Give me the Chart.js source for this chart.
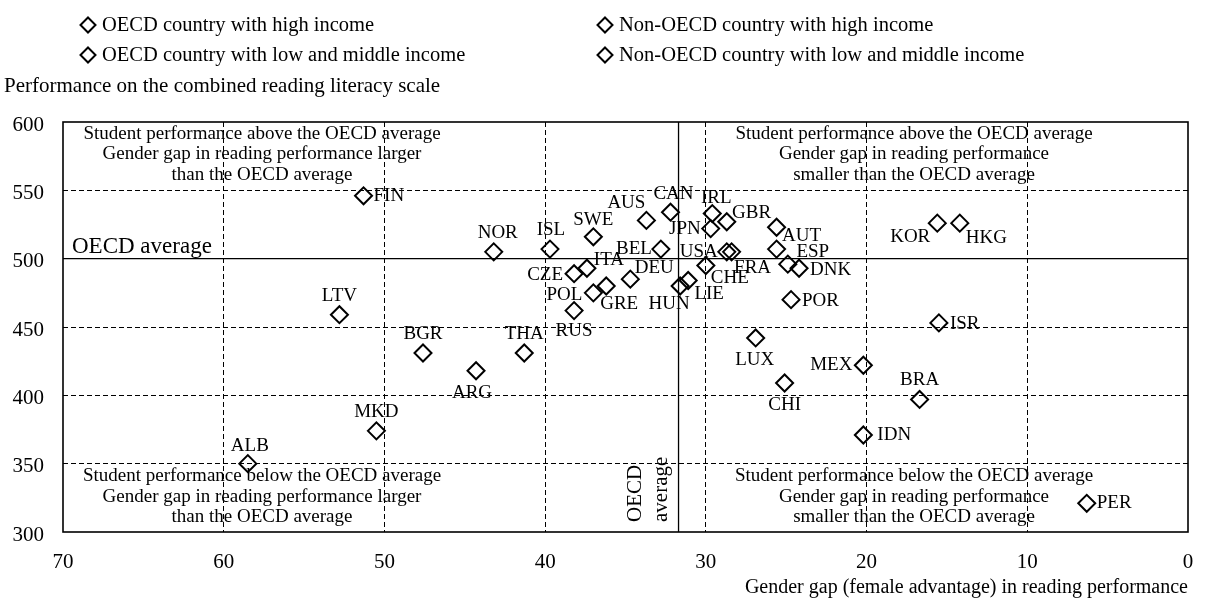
<!DOCTYPE html>
<html>
<head>
<meta charset="utf-8">
<title>Reading performance and gender gap</title>
<script src="https://cdn.jsdelivr.net/npm/chart.js@4.4.1/dist/chart.umd.min.js"></script>
<style>
  html, body { margin: 0; padding: 0; background: #fff; }
</style>
</head>
<body>
<canvas id="gapChart" width="1207" height="604"></canvas>
<script>
// country codes, female advantage in points, mean reading score
const countries = ['FIN','NOR','ISL','SWE','AUS','CAN','IRL','','JPN','GBR','AUT','BEL','USA','FRA','CHE','ESP','DNK','POR',
  'CZE','ITA','DEU','GRE','POL','RUS','HUN','LIE','LTV','BGR','MKD','ALB','ARG','THA','LUX','CHI','MEX','BRA','IDN','KOR','HKG','ISR','PER'];
const genderGap = [51.3,43.2,39.7,37.0,33.7,32.2,29.6,28.7,29.7,25.6,25.6,32.8,28.7,28.4,30.0,24.9,24.2,24.7,
  38.2,37.4,34.7,36.2,37.0,38.2,31.6,31.1,52.8,47.6,50.5,58.5,44.3,41.3,26.9,25.1,20.2,16.7,20.2,15.6,14.2,15.5,6.3];
const readingScore = [546,505,507,516,528,534,533,527,522,523,507,507,505,505,495,496,493,470,
  489,493,485,480,475,462,480,484,459,431,374,350,418,431,442,409,422,397,371,526,526,453,321];
// 0 OECD high, 1 OECD low/middle, 2 non-OECD high, 3 non-OECD low/middle
const incomeGroup = [0,0,0,0,0,0,0,0,0,0,0,0,0,0,0,0,0,0,
  1,0,0,0,1,3,1,2,3,3,3,3,3,3,0,3,1,3,3,0,2,2,3];
const groupNames = [
  'OECD country with high income',
  'OECD country with low and middle income',
  'Non-OECD country with high income',
  'Non-OECD country with low and middle income'
];
const oecdAvgGap = 31.7;
const oecdAvgScore = 500;

const quadrantNotes = {
  topLeft: ['Student performance above the OECD average', 'Gender gap in reading performance larger', 'than the OECD average'],
  topRight: ['Student performance above the OECD average', 'Gender gap in reading performance', 'smaller than the OECD average'],
  bottomLeft: ['Student performance below the OECD average', 'Gender gap in reading performance larger', 'than the OECD average'],
  bottomRight: ['Student performance below the OECD average', 'Gender gap in reading performance', 'smaller than the OECD average']
};

const SERIF = '"Liberation Serif", "DejaVu Serif", serif';

// where each code sits relative to its marker: [dx, dy, align]
const labelPlacement = {
  FIN: [10, 0, 'left'], NOR: [4, -19, 'center'], ISL: [1, -19, 'center'], SWE: [0, -17, 'center'],
  AUS: [-20, -17, 'center'], CAN: [3, -18, 'center'], IRL: [4, -16, 'center'], JPN: [-10, 0, 'right'],
  GBR: [-25, -14, 'center'], AUT: [25, -13, 'center'], BEL: [-9, 0, 'right'], USA: [-9, 0, 'right'],
  FRA: [21, 16, 'center'], CHE: [24, 13, 'center'], ESP: [25, -12, 'center'], DNK: [11, 2, 'left'],
  POR: [11, 1, 'left'], CZE: [-11, 1, 'right'], ITA: [22, -8, 'center'], DEU: [24, -11, 'center'],
  GRE: [13, 18, 'center'], POL: [-11, 2, 'right'], RUS: [0, 20, 'center'], HUN: [-11, 18, 'center'],
  LIE: [21, 13, 'center'], LTV: [0, -19, 'center'], BGR: [0, -19, 'center'], MKD: [0, -19, 'center'],
  ALB: [2, -18, 'center'], ARG: [-4, 22, 'center'], THA: [0, -19, 'center'], LUX: [-1, 22, 'center'],
  CHI: [0, 22, 'center'], MEX: [-11, 0, 'right'], BRA: [0, -19, 'center'], IDN: [14, 0, 'left'],
  KOR: [-7, 14, 'right'], HKG: [6, 15, 'left'], ISR: [11, 1, 'left'], PER: [10, 0, 'left']
};

const datasets = groupNames.map((name, g) => ({
  label: name,
  data: countries
    .map((c, i) => ({ x: genderGap[i], y: readingScore[i], name: c, g: incomeGroup[i] }))
    .filter(p => p.g === g),
  pointStyle: 'rectRot',
  pointRadius: 8.5,
  pointHoverRadius: 8.5,
  pointBorderWidth: 2,
  pointBorderColor: '#000',
  pointBackgroundColor: 'transparent'
}));

function diamond(ctx, x, y, r) {
  ctx.beginPath();
  ctx.moveTo(x, y - r);
  ctx.lineTo(x + r, y);
  ctx.lineTo(x, y + r);
  ctx.lineTo(x - r, y);
  ctx.closePath();
  ctx.stroke();
}

const overlay = {
  id: 'overlay',
  beforeDatasetsDraw(chart) {
    const { ctx, chartArea: a, scales: { x, y } } = chart;
    ctx.save();
    ctx.strokeStyle = '#000';
    // OECD average cross
    ctx.lineWidth = 1.3;
    ctx.beginPath();
    ctx.moveTo(a.left, y.getPixelForValue(oecdAvgScore));
    ctx.lineTo(a.right, y.getPixelForValue(oecdAvgScore));
    ctx.moveTo(x.getPixelForValue(oecdAvgGap), a.top);
    ctx.lineTo(x.getPixelForValue(oecdAvgGap), a.bottom);
    ctx.stroke();
    // frame
    ctx.lineWidth = 1.6;
    ctx.strokeRect(a.left, a.top, a.right - a.left, a.bottom - a.top);

    ctx.fillStyle = '#000';
    ctx.textBaseline = 'middle';
    ctx.font = '19px ' + SERIF;
    ctx.textAlign = 'center';
    const notes = [
      [quadrantNotes.topLeft, 262, [134, 154.5, 175]],
      [quadrantNotes.topRight, 914, [134, 154.5, 175]],
      [quadrantNotes.bottomLeft, 262, [476, 497, 517.5]],
      [quadrantNotes.bottomRight, 914, [476, 497, 517.5]]
    ];
    notes.forEach(([lines, cx, ys]) => lines.forEach((t, i) => ctx.fillText(t, cx, ys[i])));

    ctx.font = '23px ' + SERIF;
    ctx.textAlign = 'left';
    ctx.fillText('OECD average', a.left + 9, y.getPixelForValue(oecdAvgScore) - 12);

    // vertical caption beside the average line
    const vx = x.getPixelForValue(oecdAvgGap);
    ctx.font = '21px ' + SERIF;
    [['OECD', vx - 43], ['average', vx - 17]].forEach(([t, px]) => {
      ctx.save();
      ctx.translate(px, a.bottom - 10);
      ctx.rotate(-Math.PI / 2);
      ctx.fillText(t, 0, 0);
      ctx.restore();
    });
    ctx.restore();
  },
  afterDatasetsDraw(chart) {
    const { ctx } = chart;
    ctx.save();
    ctx.fillStyle = '#000';
    ctx.font = '19px ' + SERIF;
    ctx.textBaseline = 'middle';
    chart.data.datasets.forEach((ds, di) => {
      chart.getDatasetMeta(di).data.forEach((pt, i) => {
        const name = ds.data[i].name;
        const pos = labelPlacement[name];
        if (!name || !pos) return;
        ctx.textAlign = pos[2];
        ctx.fillText(name, pt.x + pos[0], pt.y + pos[1]);
      });
    });
    ctx.restore();
  },
  afterDraw(chart) {
    const { ctx, chartArea: a } = chart;
    ctx.save();
    ctx.fillStyle = '#000';
    ctx.strokeStyle = '#000';
    ctx.lineWidth = 2;
    ctx.textBaseline = 'middle';
    ctx.textAlign = 'left';
    ctx.font = '20.5px ' + SERIF;
    const cols = [88, 605], rows = [25, 55];
    groupNames.forEach((name, i) => {
      const cx = cols[i < 2 ? 0 : 1], cy = rows[i % 2];
      diamond(ctx, cx, cy, 7.5);
      ctx.fillText(name, cx + 14, cy + 1);
    });
    ctx.font = '21px ' + SERIF;
    ctx.fillText('Performance on the combined reading literacy scale', 4, 86);
    ctx.textAlign = 'right';
    ctx.font = '20px ' + SERIF;
    ctx.fillText('Gender gap (female advantage) in reading performance', a.right, 588);
    ctx.restore();
  }
};

new Chart(document.getElementById('gapChart'), {
  type: 'scatter',
  data: { datasets },
  options: {
    responsive: false,
    animation: false,
    layout: { padding: { top: 122, right: 19, left: 0, bottom: 0 } },
    plugins: { legend: { display: false }, tooltip: { enabled: false } },
    scales: {
      x: {
        type: 'linear',
        reverse: true,
        min: 0,
        max: 70,
        afterFit: s => { s.height = 72; s.paddingLeft = 0; s.paddingRight = 0; },
        ticks: { stepSize: 10, padding: 18, color: '#000', font: { family: SERIF, size: 21 } },
        grid: {
          drawTicks: false,
          lineWidth: 1,
          color: c => (c.tick && (c.tick.value === 0 || c.tick.value === 70)) ? 'transparent' : '#000'
        },
        border: { display: false, dash: [5, 3] }
      },
      y: {
        min: 300,
        max: 600,
        afterFit: s => { s.width = 63; s.paddingTop = 0; s.paddingBottom = 0; },
        ticks: { stepSize: 50, padding: 19, labelOffset: 3, color: '#000', font: { family: SERIF, size: 21 } },
        grid: {
          drawTicks: false,
          lineWidth: 1,
          color: c => (c.tick && [300, 500, 600].includes(c.tick.value)) ? 'transparent' : '#000'
        },
        border: { display: false, dash: [5, 3] }
      }
    }
  },
  plugins: [overlay]
});
</script>
</body>
</html>
